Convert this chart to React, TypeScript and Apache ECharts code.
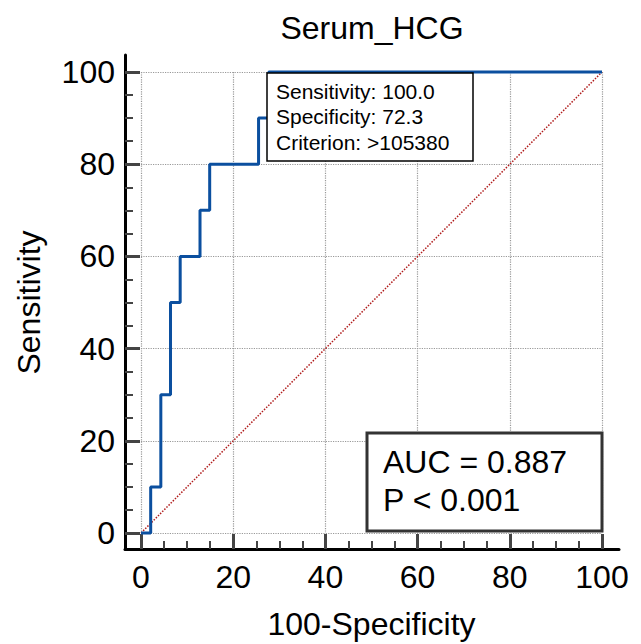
import React, { useEffect, useRef } from "react";
import * as echarts from "echarts";

// ROC curve points (100-Specificity, Sensitivity)
const rocX = [0, 2.1, 2.1, 4.3, 4.3, 6.4, 6.4, 8.5, 8.5, 12.8, 12.8, 14.9, 14.9, 25.5, 25.5, 27.7, 27.7, 100];
const rocY = [0, 0, 10, 10, 30, 30, 50, 50, 60, 60, 70, 70, 80, 80, 90, 90, 100, 100];
const diagX = [0, 100];
const diagY = [0, 100];

const titleText = "Serum_HCG";
const xName = "100-Specificity";
const yName = "Sensitivity";
const criterionLines = ["Sensitivity: 100.0", "Specificity: 72.3", "Criterion: >105380"];
const aucLines = ["AUC = 0.887", "P < 0.001"];

const FONT = "Liberation Sans, Arial, sans-serif";

export default function App() {
  const ref = useRef<HTMLDivElement>(null);

  useEffect(() => {
    if (!ref.current) return;
    const chart = echarts.init(ref.current, null, { renderer: "svg" });

    const mainAxis = (name: string, isY: boolean) => ({
      gridIndex: 0,
      type: "value" as const,
      min: 0,
      max: 100,
      interval: 20,
      offset: 16,
      name,
      nameLocation: "middle" as const,
      nameGap: isY ? 80 : 59,
      nameRotate: isY ? 90 : 0,
      nameTextStyle: { fontSize: 32, color: "#000", fontFamily: FONT },
      axisLine: { show: false },
      axisTick: { show: false },
      minorTick: { show: false },
      splitLine: { show: true, lineStyle: { type: "dotted", color: "#999", width: 1.2 } },
      minorSplitLine: { show: false },
      axisLabel: { fontSize: 32, color: "#000", fontFamily: FONT, margin: isY ? 10 : 12 },
    });

    const tickAxis = (gridIndex: number) => ({
      gridIndex,
      type: "value" as const,
      min: 0,
      max: 100,
      interval: 20,
      axisLine: { show: true, onZero: false, lineStyle: { color: "rgba(0,0,0,0)", width: 1 } },
      axisTick: { show: true, inside: true, length: 15, lineStyle: { color: "#444", width: 3 } },
      minorTick: { show: true, splitNumber: 4, length: 8, lineStyle: { color: "#444", width: 2 } },
      splitLine: { show: false },
      minorSplitLine: { show: false },
      axisLabel: { show: true, color: "rgba(0,0,0,0)", fontSize: 1 },
    });

    const hiddenAxis = (gridIndex: number) => ({
      gridIndex,
      type: "value" as const,
      min: 0,
      max: 100,
      axisLine: { show: false },
      axisTick: { show: false },
      axisLabel: { show: false },
      splitLine: { show: false },
    });

    const frameAxis = {
      gridIndex: 1,
      type: "value" as const,
      min: 0,
      max: 1,
      axisLine: { show: true, onZero: false, lineStyle: { color: "#000", width: 3 } },
      axisTick: { show: false },
      axisLabel: { show: false },
      splitLine: { show: false },
    };

    const option = {
      animation: false,
      backgroundColor: "#fff",
      grid: [
        { left: 141, right: 39, top: 72, bottom: 111, outerBoundsMode: "none" },
        { left: 125, right: 22, top: 55, bottom: 95, outerBoundsMode: "none" },
        { left: 141, right: 39, top: 72, bottom: 95, outerBoundsMode: "none" },
        { left: 125, right: 39, top: 72, bottom: 111, outerBoundsMode: "none" },
      ],
      xAxis: [mainAxis(xName, false), { ...frameAxis }, tickAxis(2), hiddenAxis(3)],
      yAxis: [mainAxis(yName, true), { ...frameAxis }, hiddenAxis(2), tickAxis(3)],
      series: [
        {
          type: "line",
          xAxisIndex: 0,
          yAxisIndex: 0,
          data: diagX.map((x, i) => [x, diagY[i]]),
          showSymbol: false,
          clip: false,
          z: 2,
          lineStyle: { color: "#b01c1c", width: 1.5, type: "dotted" },
        },
        {
          type: "line",
          xAxisIndex: 0,
          yAxisIndex: 0,
          data: rocX.map((x, i) => [x, rocY[i]]),
          showSymbol: false,
          clip: false,
          z: 3,
          lineStyle: { color: "#0b4f9f", width: 3 },
        },
      ],
      graphic: [
        {
          type: "text",
          x: 372,
          y: 28,
          style: { text: titleText, fontSize: 32, fill: "#000", fontFamily: FONT, align: "center", verticalAlign: "middle" },
        },
        {
          type: "rect",
          z: 10,
          shape: { x: 267, y: 73, width: 206, height: 88 },
          style: { fill: "#fff", stroke: "#000", lineWidth: 1.5 },
        },
        ...criterionLines.map((t, i) => ({
          type: "text",
          z: 11,
          x: 276,
          y: 91 + i * 25.5,
          style: { text: t, fontSize: 21, fill: "#000", fontFamily: FONT, align: "left", verticalAlign: "middle" },
        })),
        {
          type: "rect",
          z: 10,
          shape: { x: 367, y: 433, width: 235, height: 98 },
          style: { fill: "#fff", stroke: "#333", lineWidth: 3 },
        },
        ...aucLines.map((t, i) => ({
          type: "text",
          z: 11,
          x: 383,
          y: 462 + i * 38,
          style: { text: t, fontSize: 32, fill: "#000", fontFamily: FONT, align: "left", verticalAlign: "middle" },
        })),
      ],
    };

    chart.setOption(option as any);
    return () => chart.dispose();
  }, []);

  return (
    <div
      ref={ref}
      style={{ position: "absolute", left: 0, top: 0, width: 641, height: 644, background: "#fff" }}
    />
  );
}
